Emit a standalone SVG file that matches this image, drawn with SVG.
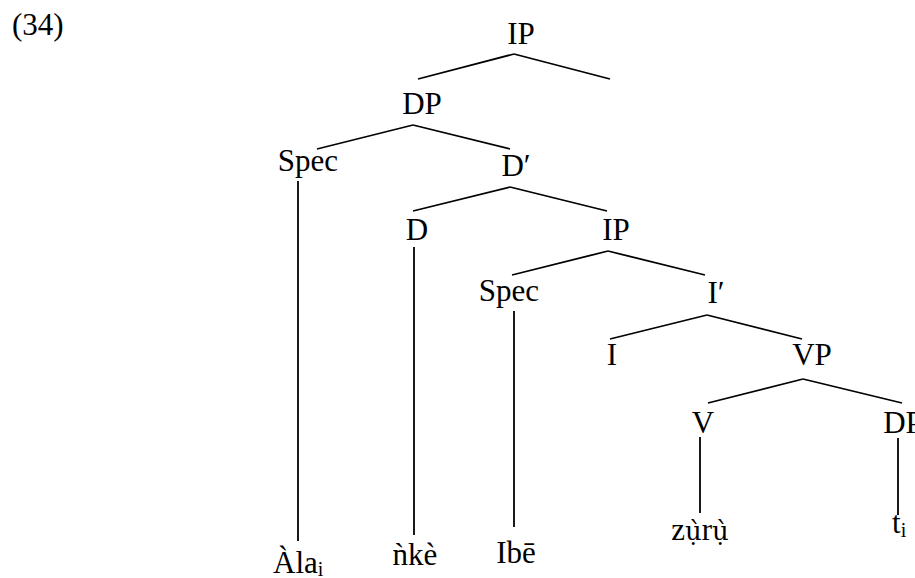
<svg xmlns="http://www.w3.org/2000/svg" width="915" height="578" viewBox="0 0 915 578">
<style>
text{font-family:"Liberation Serif","Times New Roman",serif;font-size:31px;fill:#000}
.m{text-anchor:middle}
.sub{font-size:20px}
.mk{font-family:"DejaVu Serif",serif;font-size:26px}
#edges line{stroke:#000;stroke-width:1.8;stroke-linecap:butt}
</style>
<rect width="915" height="578" fill="#fff"/>
<text x="12" y="35">(34)</text>
<g id="edges">
<line x1="514" y1="54" x2="418" y2="79"/>
<line x1="514" y1="54" x2="610" y2="79"/>
<line x1="413" y1="125" x2="317" y2="149"/>
<line x1="413" y1="125" x2="510" y2="149"/>
<line x1="298" y1="181" x2="298" y2="541"/>
<line x1="510" y1="187" x2="413" y2="211"/>
<line x1="510" y1="187" x2="607" y2="211"/>
<line x1="414" y1="247" x2="414" y2="535"/>
<line x1="608" y1="251" x2="512" y2="275"/>
<line x1="608" y1="251" x2="705" y2="275"/>
<line x1="514" y1="311" x2="514" y2="527"/>
<line x1="707" y1="315" x2="610" y2="339"/>
<line x1="707" y1="315" x2="802" y2="339"/>
<line x1="803" y1="379" x2="708" y2="403"/>
<line x1="803" y1="379" x2="902" y2="403"/>
<line x1="700" y1="437" x2="700" y2="513"/>
<line x1="898" y1="438" x2="898" y2="515"/>
</g>
<g id="ip-top"><text class="m" x="521" y="44">IP</text></g>
<g id="dp-top"><text class="m" x="422" y="114">DP</text></g>
<g id="spec1"><text class="m" x="308" y="171">Spec</text></g>
<g id="dbar"><text class="m" x="516" y="176">D′</text></g>
<g id="d"><text class="m" x="417" y="240">D</text></g>
<g id="ip2"><text class="m" x="616" y="240">IP</text></g>
<g id="spec2"><text class="m" x="509" y="301">Spec</text></g>
<g id="ibar"><text class="m" x="716" y="303">I′</text></g>
<g id="i"><text class="m" x="612" y="365">I</text></g>
<g id="vp"><text class="m" x="812" y="365">VP</text></g>
<g id="v"><text class="m" x="703" y="433">V</text></g>
<g id="dp2"><text class="m" x="903" y="433">DP</text></g>
<g id="w-ala"><text x="273" y="573">Àla<tspan class="sub" dy="3">i</tspan></text></g>
<g id="w-nke"><text class="m" x="415" y="565">ǹkè</text></g>
<g id="w-ibe"><text class="m" x="516" y="563">Ibē</text></g>
<g id="w-zuru"><text class="m" x="700" y="540">z<tspan class="mk">ụ̀</tspan>r<tspan class="mk">ụ̀</tspan></text></g>
<g id="w-t"><text x="892" y="533">t<tspan class="sub" dy="4">i</tspan></text></g>
</svg>
